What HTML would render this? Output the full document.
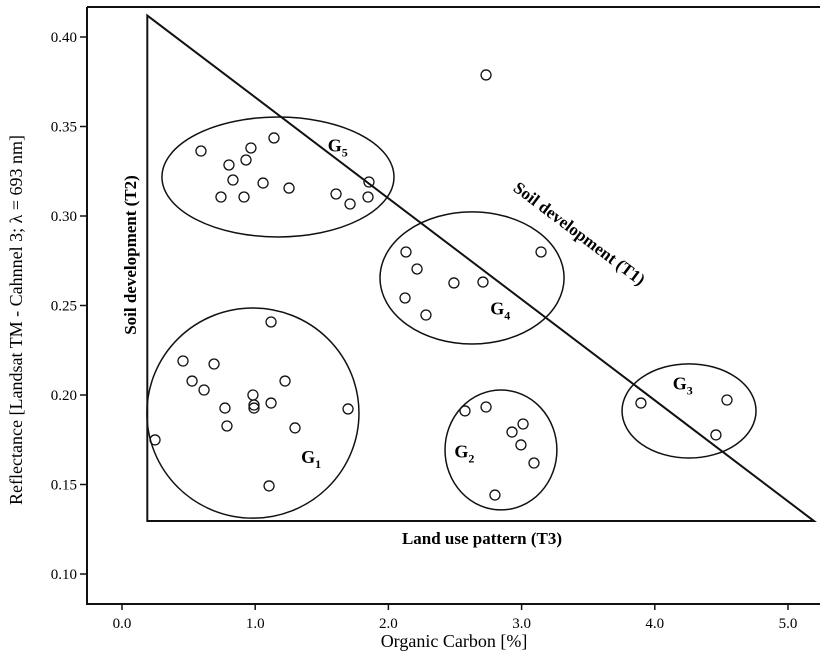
<!DOCTYPE html>
<html><head><meta charset="utf-8"><style>
html,body{margin:0;padding:0;background:#fff;}
svg{display:block;font-family:"Liberation Serif",serif;}
</style></head><body>
<svg id="chart" width="831" height="657" viewBox="0 0 831 657">
<g id="axes"></g><g id="shapes"></g><g id="points"></g>
<text x="454" y="647" font-size="18" text-anchor="middle">Organic Carbon [%]</text>
<text transform="translate(22,320) rotate(-90)" font-size="18" text-anchor="middle">Reflectance [Landsat TM - Cahnnel 3; λ = 693 nm]</text>
<text transform="translate(136,255) rotate(-90)" font-size="17" font-weight="bold" text-anchor="middle">Soil development (T2)</text>
<text transform="translate(576,238) rotate(37)" font-size="17" font-weight="bold" text-anchor="middle">Soil development (T1)</text>
<text x="482" y="544" font-size="17" font-weight="bold" text-anchor="middle">Land use pattern (T3)</text>
</svg>
<script>
const xTicks=[0,1,2,3,4,5];
const xTickLabels=["0.0","1.0","2.0","3.0","4.0","5.0"];
const yTicks=[0.10,0.15,0.20,0.25,0.30,0.35,0.40];
const yTickLabels=["0.10","0.15","0.20","0.25","0.30","0.35","0.40"];
const g1X=[1.119,0.458,0.691,0.526,0.616,1.224,0.983,0.991,0.991,1.119,0.773,0.788,1.299,1.697,0.248,1.104];
const g1Y=[0.2408,0.2190,0.2173,0.2078,0.2028,0.2078,0.2000,0.1944,0.1927,0.1955,0.1927,0.1827,0.1816,0.1922,0.1749,0.1492];
const g2X=[2.575,2.733,3.011,2.928,2.995,3.093,2.800];
const g2Y=[0.1911,0.1933,0.1838,0.1793,0.1721,0.1620,0.1441];
const g3X=[3.896,4.542,4.459];
const g3Y=[0.1955,0.1972,0.1777];
const g4X=[2.132,2.215,2.492,2.710,2.125,2.282,3.146];
const g4Y=[0.2799,0.2704,0.2626,0.2631,0.2542,0.2447,0.2799];
const g5X=[0.593,0.803,0.931,0.968,0.833,0.743,0.916,1.059,1.141,1.254,1.607,1.712,1.847,1.854];
const g5Y=[0.3363,0.3285,0.3313,0.3380,0.3201,0.3106,0.3106,0.3184,0.3436,0.3156,0.3123,0.3067,0.3106,0.3190];
const outlierX=[2.733];
const outlierY=[0.3788];
const groupNames=["G1","G2","G3","G4","G5"];
const groupCX=[0.983,2.845,4.257,2.628,1.171];
const groupCY=[0.1899,0.1693,0.1911,0.2654,0.3218];
const groupRX=[0.796,0.420,0.503,0.691,0.871];
const groupRY=[0.0587,0.0335,0.0263,0.0369,0.0335];
const labelX=[1.42,2.57,4.21,2.84,1.62];
const labelY=[0.162,0.165,0.203,0.245,0.336];
const triX=[0.19,0.19,5.195];
const triY=[0.412,0.1296,0.1296];

const NS="http://www.w3.org/2000/svg";
const xs=v=>122+v*133.2;
const ys=v=>574-(v-0.1)*1790;
function mk(tag,attrs,parent){const e=document.createElementNS(NS,tag);for(const k in attrs)e.setAttribute(k,attrs[k]);parent.appendChild(e);return e;}
const axes=document.getElementById('axes'),shapes=document.getElementById('shapes'),pts=document.getElementById('points');
let fr=mk('path',{d:'M87,7 H820 M87,7 V604 H820',fill:'none',stroke:'#111','stroke-width':2},axes);


xTicks.forEach((t,i)=>{
 let l=mk('line',{x1:xs(t),x2:xs(t),y1:604,y2:610,stroke:'#111','stroke-width':1.5},axes);
 
 
 let tx=mk('text',{x:xs(t),y:628,'font-size':15,'text-anchor':'middle'},axes);tx.textContent=xTickLabels[i];
 
 
});
yTicks.forEach((t,i)=>{
 let l=mk('line',{x1:80,x2:87,y1:ys(t),y2:ys(t),stroke:'#111','stroke-width':1.5},axes);
 
 
 let tx=mk('text',{x:77,y:ys(t)+5,'font-size':15,'text-anchor':'end'},axes);tx.textContent=yTickLabels[i];
 
 
});
let tri=mk('polygon',{points:triX.map((x,i)=>xs(x)+','+ys(triY[i])).join(' '),fill:'none',stroke:'#111','stroke-width':2},shapes);


groupNames.forEach((n,i)=>{
 let e=mk('ellipse',{cx:xs(groupCX[i]),cy:ys(groupCY[i]),rx:groupRX[i]*133.2,ry:groupRY[i]*1790,fill:'none',stroke:'#111','stroke-width':1.5},shapes);
 
 
 let t=mk('text',{x:xs(labelX[i]),y:ys(labelY[i]),'font-size':18,'font-weight':'bold','text-anchor':'middle'},shapes);
 t.innerHTML='G<tspan font-size="12" dy="5">'+n.slice(1)+'</tspan>';
 
 
});
[[g1X,g1Y],[g2X,g2Y],[g3X,g3Y],[g4X,g4Y],[g5X,g5Y],[outlierX,outlierY]].forEach((s,gi)=>{
 s[0].forEach((x,i)=>{
  let c=mk('circle',{cx:xs(x),cy:ys(s[1][i]),r:5,fill:'none',stroke:'#111','stroke-width':1.3},pts);
  
  
 });
});
</script>
</body></html>
